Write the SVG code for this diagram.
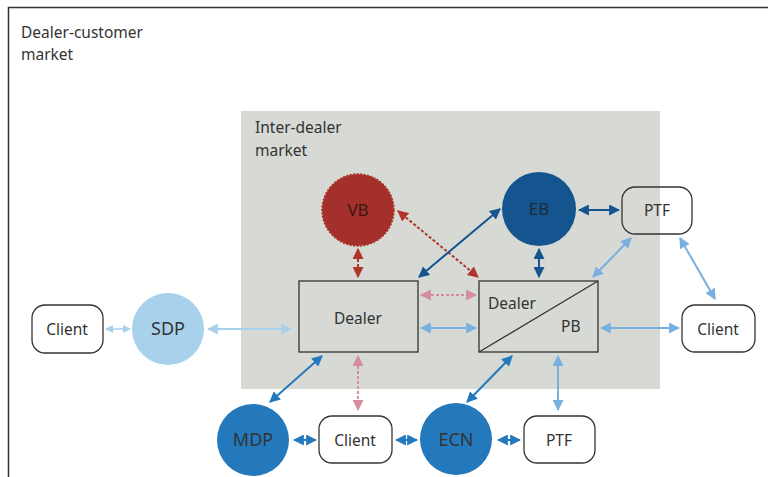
<svg xmlns="http://www.w3.org/2000/svg" width="768" height="477" viewBox="0 0 768 477">
<defs>
<style>
text{font-family:"Noto Sans","Open Sans","Liberation Sans",sans-serif;fill:#333;}
.lbl{font-size:15.5px;}
.node{font-size:15.5px;text-anchor:middle;}
.mid{font-size:17px;text-anchor:middle;}
.big{font-size:18px;text-anchor:middle;}
.box{fill:none;stroke:#333;stroke-width:1.3;}
.rbox{fill:#fff;stroke:#333;stroke-width:1.3;}
.c{fill:none;stroke-width:2;}
.sdp{stroke:#a8d1eb;}
.lb{stroke:#7ab0df;}
.mb{stroke:#2479bd;}
.db{stroke:#14558f;}
.red{stroke:#b0352b;stroke-dasharray:3 2;}
.pink{stroke:#d38d9d;stroke-dasharray:3 2;}
</style>
<marker id="aSdp" viewBox="0 0 10 10" refX="9" refY="5" markerWidth="5.5" markerHeight="5.5" orient="auto-start-reverse" markerUnits="strokeWidth"><path d="M0,0L10,5L0,10z" fill="#a8d1eb"/></marker>
<marker id="aLb" viewBox="0 0 10 10" refX="9" refY="5" markerWidth="5.5" markerHeight="5.5" orient="auto-start-reverse" markerUnits="strokeWidth"><path d="M0,0L10,5L0,10z" fill="#7ab0df"/></marker>
<marker id="aMb" viewBox="0 0 10 10" refX="9" refY="5" markerWidth="5.5" markerHeight="5.5" orient="auto-start-reverse" markerUnits="strokeWidth"><path d="M0,0L10,5L0,10z" fill="#2479bd"/></marker>
<marker id="aDb" viewBox="0 0 10 10" refX="9" refY="5" markerWidth="5.5" markerHeight="5.5" orient="auto-start-reverse" markerUnits="strokeWidth"><path d="M0,0L10,5L0,10z" fill="#14558f"/></marker>
<marker id="aRed" viewBox="0 0 10 10" refX="9" refY="5" markerWidth="5.5" markerHeight="5.5" orient="auto-start-reverse" markerUnits="strokeWidth"><path d="M0,0L10,5L0,10z" fill="#b0352b"/></marker>
<marker id="aPink" viewBox="0 0 10 10" refX="9" refY="5" markerWidth="5.5" markerHeight="5.5" orient="auto-start-reverse" markerUnits="strokeWidth"><path d="M0,0L10,5L0,10z" fill="#d38d9d"/></marker>
</defs>
<rect width="768" height="477" fill="#fff"/>
<g id="frame">
<path d="M8.5,477V7.5H768" fill="none" stroke="#333" stroke-width="1.5"/>
<text class="lbl" x="21" y="38">Dealer-customer</text>
<text class="lbl" x="21" y="60">market</text>
</g>
<g id="interdealer">
<rect x="241" y="111" width="419" height="278" fill="#d7d9d4"/>
<text class="lbl" x="255" y="133">Inter-dealer</text>
<text class="lbl" x="255" y="156">market</text>
</g>
<g id="connectors">
<line class="c sdp" x1="106" y1="329" x2="130" y2="329" style="stroke-width:1.5" marker-start="url(#aSdp)" marker-end="url(#aSdp)"/>
<line class="c sdp" x1="208" y1="329" x2="291" y2="329" marker-start="url(#aSdp)" marker-end="url(#aSdp)"/>
<line class="c red" x1="358" y1="249" x2="358" y2="277" marker-start="url(#aRed)" marker-end="url(#aRed)"/>
<line class="c red" x1="398" y1="211" x2="478" y2="277" marker-start="url(#aRed)" marker-end="url(#aRed)"/>
<line class="c db" x1="419" y1="277" x2="500" y2="209" marker-start="url(#aDb)" marker-end="url(#aDb)"/>
<line class="c db" x1="579" y1="210" x2="619" y2="210" marker-start="url(#aDb)" marker-end="url(#aDb)"/>
<line class="c db" x1="539" y1="249" x2="539" y2="277" marker-start="url(#aDb)" marker-end="url(#aDb)"/>
<line class="c pink" x1="421" y1="295" x2="476" y2="295" marker-start="url(#aPink)" marker-end="url(#aPink)"/>
<line class="c lb" x1="421" y1="328" x2="476" y2="328" marker-start="url(#aLb)" marker-end="url(#aLb)"/>
<line class="c lb" x1="631" y1="238" x2="593" y2="277" marker-start="url(#aLb)" marker-end="url(#aLb)"/>
<line class="c lb" x1="680" y1="238" x2="715" y2="299" marker-start="url(#aLb)" marker-end="url(#aLb)"/>
<line class="c lb" x1="601" y1="328" x2="679" y2="328" marker-start="url(#aLb)" marker-end="url(#aLb)"/>
<line class="c mb" x1="322" y1="356" x2="270" y2="402" marker-start="url(#aMb)" marker-end="url(#aMb)"/>
<line class="c pink" x1="358" y1="356" x2="358" y2="410" marker-start="url(#aPink)" marker-end="url(#aPink)"/>
<line class="c mb" x1="512" y1="356" x2="467" y2="402" marker-start="url(#aMb)" marker-end="url(#aMb)"/>
<line class="c lb" x1="558" y1="356" x2="558" y2="410" marker-start="url(#aLb)" marker-end="url(#aLb)"/>
<line class="c mb" x1="294" y1="440" x2="316" y2="440" marker-start="url(#aMb)" marker-end="url(#aMb)"/>
<line class="c mb" x1="396" y1="440" x2="417" y2="440" marker-start="url(#aMb)" marker-end="url(#aMb)"/>
<line class="c mb" x1="498" y1="440" x2="520" y2="440" marker-start="url(#aMb)" marker-end="url(#aMb)"/>
</g>
<g id="vb">
<circle cx="358" cy="210" r="36" fill="#a3302a" stroke="#b0352b" stroke-width="1.5" stroke-dasharray="2 1.5"/>
<text class="mid" x="358" y="216" style="fill:#3a1512">VB</text>
</g>
<g id="eb">
<circle cx="539" cy="209" r="37" fill="#14558f"/>
<text class="mid" x="539" y="215" style="fill:#1c2b3a">EB</text>
</g>
<g id="ptf-top">
<rect class="rbox" x="622" y="187" width="70" height="47" rx="13" style="fill:none"/>
<text class="node" x="657" y="216">PTF</text>
</g>
<g id="client-right">
<rect class="rbox" x="682" y="305" width="73" height="47" rx="13"/>
<text class="node" x="718" y="335">Client</text>
</g>
<g id="client-left">
<rect class="rbox" x="32" y="305" width="71" height="48" rx="13"/>
<text class="node" x="67" y="335">Client</text>
</g>
<g id="sdp">
<circle cx="168" cy="329" r="36" fill="#a8d1eb"/>
<text class="big" x="168" y="335">SDP</text>
</g>
<g id="dealer">
<rect class="box" x="299" y="281" width="119" height="71"/>
<text class="node" x="358" y="324">Dealer</text>
</g>
<g id="dealer-pb">
<rect class="box" x="479" y="281" width="119" height="71"/>
<line x1="479" y1="352" x2="598" y2="281" stroke="#333" stroke-width="1.3"/>
<text class="lbl" x="488" y="309">Dealer</text>
<text class="lbl" x="561" y="332">PB</text>
</g>
<g id="mdp">
<circle cx="253" cy="440" r="36" fill="#2479bd"/>
<text class="big" x="253" y="446">MDP</text>
</g>
<g id="client-bottom">
<rect class="rbox" x="319" y="416" width="73" height="47" rx="13"/>
<text class="node" x="355" y="446">Client</text>
</g>
<g id="ecn">
<circle cx="456" cy="439" r="36" fill="#2479bd"/>
<text class="big" x="456" y="446">ECN</text>
</g>
<g id="ptf-bottom">
<rect class="rbox" x="524" y="416" width="71" height="47" rx="13"/>
<text class="node" x="559" y="446">PTF</text>
</g>
</svg>
